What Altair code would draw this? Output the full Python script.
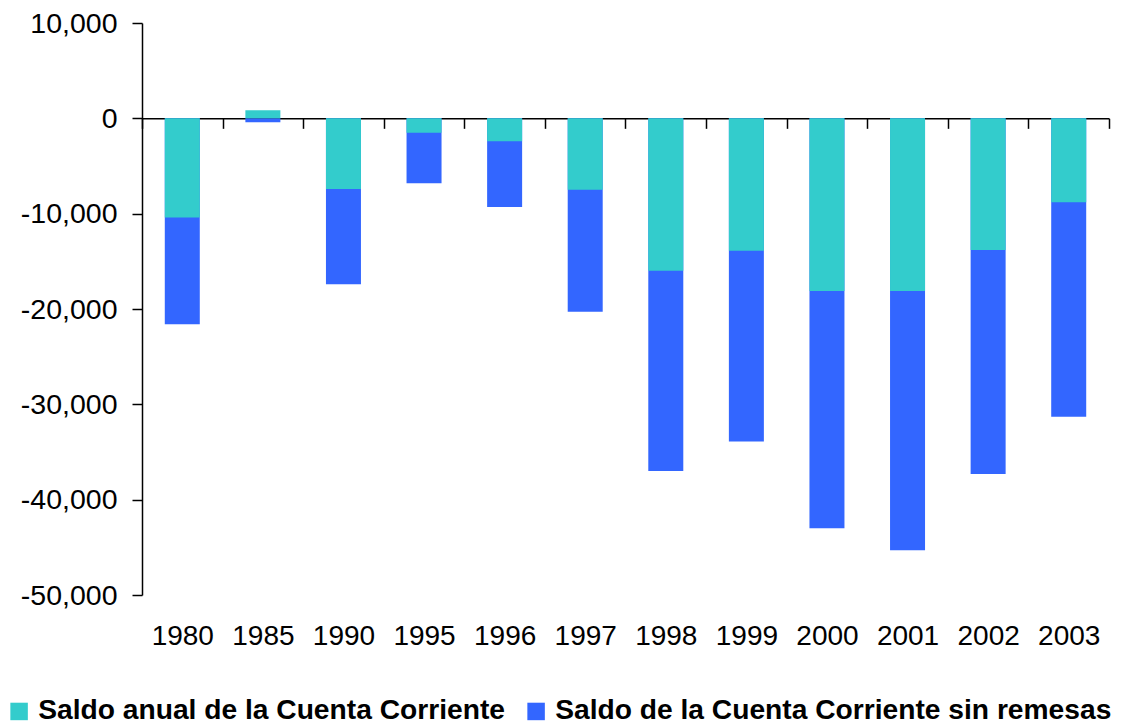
import altair as alt
import pandas as pd

years = ["1980", "1985", "1990", "1995", "1996", "1997", "1998", "1999", "2000", "2001", "2002", "2003"]
saldo_anual = [-10400, 850, -7400, -1500, -2400, -7500, -16000, -13900, -18100, -18100, -13800, -8800]
saldo_sin_remesas = [-21600, -400, -17400, -6800, -9300, -20300, -37000, -33900, -43000, -45300, -37300, -31300]

series_names = ["Saldo anual de la Cuenta Corriente", "Saldo de la Cuenta Corriente sin remesas"]
series_colors = ["#33CCCC", "#3366FF"]
y_ticks = [10000, 0, -10000, -20000, -30000, -40000, -50000]
y_min, y_max = -50000, 10000

rows = []
# blue (sin remesas) first so the teal bars are drawn on top
for y, v in zip(years, saldo_sin_remesas):
    rows.append({"year": y, "series": series_names[1], "value": v})
for y, v in zip(years, saldo_anual):
    rows.append({"year": y, "series": series_names[0], "value": v})
df = pd.DataFrame(rows)

W, H = 967, 572
zero_offset = -(H - H * (y_max - 0) / (y_max - y_min))
FONT = "Liberation Sans"

chart = alt.Chart(df).mark_bar(size=35).encode(
    x=alt.X(
        "year:N",
        sort=years,
        title=None,
        scale=alt.Scale(paddingInner=0, paddingOuter=0),
        axis=alt.Axis(
            orient="bottom",
            offset=zero_offset,
            domain=True,
            domainColor="black",
            domainWidth=1.5,
            ticks=True,
            tickBand="extent",
            tickColor="black",
            tickWidth=1.5,
            tickSize=10,
            labelAngle=0,
            labelFont=FONT,
            labelFontSize=28,
            labelColor="black",
            labelPadding=494,
            grid=False,
        ),
    ),
    y=alt.Y(
        "value:Q",
        stack=None,
        title=None,
        scale=alt.Scale(domain=[y_min, y_max], nice=False, zero=False),
        axis=alt.Axis(
            values=y_ticks,
            labelExpr="replace(format(datum.value, ','), '\u2212', '-')",
            domainColor="black",
            domainWidth=1.5,
            tickColor="black",
            tickWidth=1.5,
            tickSize=10,
            labelFont=FONT,
            labelFontSize=28.5,
            labelColor="black",
            labelPadding=15,
            grid=False,
        ),
    ),
    color=alt.Color(
        "series:N",
        scale=alt.Scale(domain=series_names, range=series_colors),
        legend=alt.Legend(
            title=None,
            orient="none",
            legendX=-137,
            legendY=674,
            direction="horizontal",
            symbolType="square",
            symbolSize=306,
            symbolStrokeWidth=0,
            labelFont=FONT,
            labelFontSize=28.2,
            labelFontWeight="bold",
            labelColor="black",
            labelOffset=5,
            columnPadding=17,
            padding=0,
            labelLimit=1000,
        ),
    ),
).properties(
    width=W,
    height=H,
    autosize=alt.AutoSizeParams(type="none"),
    padding={"left": 134, "top": 15, "right": 6, "bottom": 129},
).configure_view(stroke=None)

chart.save("out.html", embed_options={"renderer": "svg", "actions": False})
